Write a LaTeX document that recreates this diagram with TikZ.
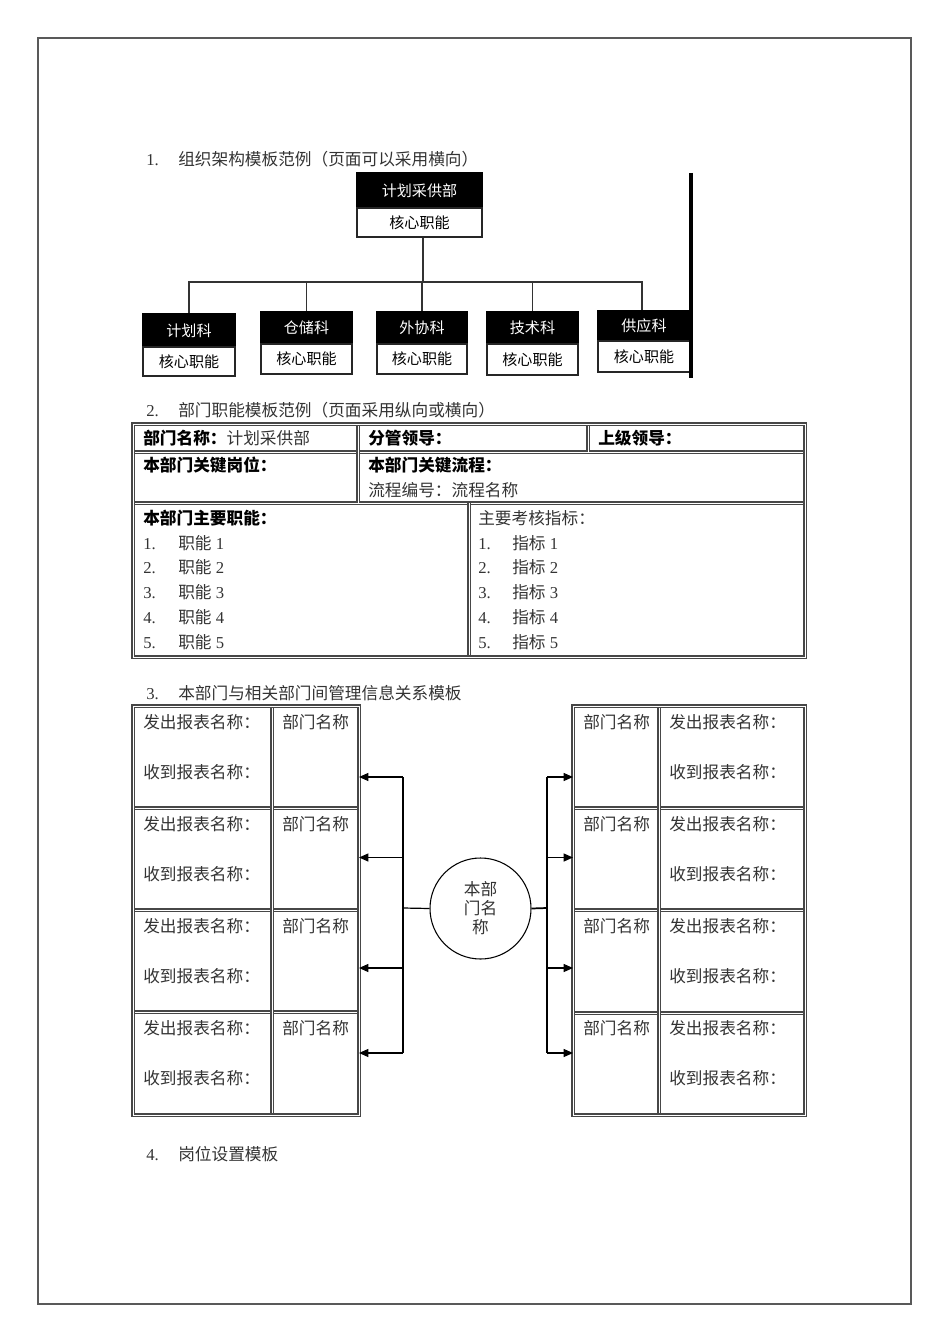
\documentclass[tikz,border=0pt]{standalone}
\usepackage{fontspec}
\setmainfont{Liberation Serif}
\newfontfamily\cjk{Noto Sans CJK SC}
\usetikzlibrary{arrows.meta}
\newcommand\zh[1]{{\cjk #1}}
\newcommand\numlab[2]{\makebox[#1][l]{#2}}
\begin{document}
\begin{tikzpicture}[x=0.75pt,y=-0.75pt,
  txt/.style={anchor=base west, inner sep=0, text=black!80, font=\fontsize{12.5pt}{15pt}\selectfont},
  hd/.style={anchor=base west, inner sep=0, text=black, font=\fontsize{12.5pt}{15pt}\selectfont\cjk\bfseries},
  orgfont/.style={font=\fontsize{11.3pt}{13pt}\selectfont\cjk},
  dk/.style={orgfont, fill=black, draw=black, text=white, inner sep=0, line width=0.8pt},
  lt/.style={orgfont, fill=white, draw=black!85, text=black, inner sep=0, line width=0.9pt},
  link/.style={draw=black!80, line width=0.9pt},
  dbl/.style={draw=black!72, line width=2.3pt, postaction={draw=white, line width=0.75pt}},
  arr/.style={draw=black, line width=0.8pt, -{Triangle[length=7pt,width=6pt]}}
]
\useasboundingbox (0,0) rectangle (950,1344);
% page frame
\draw[draw=black!65, line width=1.4pt] (38,38) rectangle (911,1304);

% ---------- section 1 ----------
\node[txt] (t1) at (146,166) {\numlab{24pt}{1.}\zh{组织架构模板范例（页面可以采用横向）}};

\node[dk, minimum width=125*0.75pt, minimum height=35*0.75pt] (topd) at (419.5,190.5) {计划采供部};
\node[lt, minimum width=125*0.75pt, minimum height=29*0.75pt] (topf) at (419.5,222.5) {核心职能};

\node[dk, minimum width=92*0.75pt, minimum height=33*0.75pt] (ad) at (189,330.5) {计划科};
\node[lt, minimum width=92*0.75pt, minimum height=29*0.75pt] (af) at (189,361.5) {核心职能};
\node[dk, minimum width=91*0.75pt, minimum height=32*0.75pt] (bd) at (306.5,328) {仓储科};
\node[lt, minimum width=91*0.75pt, minimum height=30*0.75pt] (bf) at (306.5,359) {核心职能};
\node[dk, minimum width=90*0.75pt, minimum height=32*0.75pt] (cd) at (422,328) {外协科};
\node[lt, minimum width=90*0.75pt, minimum height=30*0.75pt] (cf) at (422,359) {核心职能};
\node[dk, minimum width=91*0.75pt, minimum height=32*0.75pt] (dd) at (532.5,328) {技术科};
\node[lt, minimum width=91*0.75pt, minimum height=31*0.75pt] (df) at (532.5,359.5) {核心职能};
\node[dk, minimum width=92*0.75pt, minimum height=30*0.75pt] (ed) at (644,326) {供应科};
\node[lt, minimum width=92*0.75pt, minimum height=31*0.75pt] (ef) at (644,356.5) {核心职能};

\coordinate (bus) at (423,282);
\draw[link] (bus |- topf.south) -- (bus);
\draw[link] (bus) -| (ad.north);
\draw[link] (bus) -| (bd.north);
\draw[link] (bus) -| (cd.north);
\draw[link] (bus) -| (dd.north);
\coordinate (ebus) at (642,282);
\draw[link] (bus) -- (ebus) -- (ebus |- ed.north);

\coordinate (thA) at (691,173);
\coordinate (thB) at (691,378);
\draw[draw=black, line width=2.6pt] (thA) -- (thB);

% ---------- section 2 ----------
\node[txt] (t2) at (146,416) {\numlab{24pt}{2.}\zh{部门职能模板范例（页面采用纵向或横向）}};

\draw[dbl] (133,452) -- (805,452);
\draw[dbl] (133,503) -- (805,503);
\draw[dbl] (358,424) -- (358,503);
\draw[dbl] (588,424) -- (588,452);
\draw[dbl] (469,503) -- (469,657);
\draw[dbl] (133,424) rectangle (805,657);

\node[hd] (r1a) at (143,444) {部门名称：\textcolor{black!80}{\mdseries 计划采供部}};
\node[hd] (r1b) at (368,444) {分管领导：};
\node[hd] (r1c) at (598,444) {上级领导：};
\node[hd] (r2a) at (143,471) {本部门关键岗位：};
\node[hd] (r2b) at (368,471) {本部门关键流程：};
\node[txt] (r2c) at (368,496) {\zh{流程编号：流程名称}};
\node[hd] (r3a) at (143,524) {本部门主要职能：};
\node[txt] (r3b) at (478,524) {\zh{主要考核指标：}};
\foreach \k/\yy in {1/549,2/573,3/598,4/623,5/648} {
  \node[txt] (fa\k) at (143,\yy) {\numlab{26.25pt}{\k.}\zh{职能} \k};
  \node[txt] (fb\k) at (478,\yy) {\numlab{25.5pt}{\k.}\zh{指标} \k};
}

% ---------- section 3 ----------
\node[txt] (t3) at (146,699) {\numlab{24pt}{3.}\zh{本部门与相关部门间管理信息关系模板}};

% left table
\draw[dbl] (133,808) -- (359,808);
\draw[dbl] (133,910) -- (359,910);
\draw[dbl] (133,1012) -- (359,1012);
\draw[dbl] (272,706) -- (272,1115);
\draw[dbl] (133,706) rectangle (359,1115);
% right table
\draw[dbl] (573,808) -- (805,808);
\draw[dbl] (573,910) -- (805,910);
\draw[dbl] (573,1013) -- (805,1013);
\draw[dbl] (659,706) -- (659,1115);
\draw[dbl] (573,706) rectangle (805,1115);

\foreach \k/\tp in {1/706,2/808,3/910,4/1012} {
  \node[txt] (lsend\k) at (143,{\tp+22}) {\zh{发出报表名称：}};
  \node[txt] (lrecv\k) at (143,{\tp+72}) {\zh{收到报表名称：}};
  \node[txt] (ldept\k) at (282,{\tp+22}) {\zh{部门名称}};
  \node[txt] (rdept\k) at (583,{\tp+22}) {\zh{部门名称}};
  \node[txt] (rsend\k) at (669,{\tp+22}) {\zh{发出报表名称：}};
  \node[txt] (rrecv\k) at (669,{\tp+72}) {\zh{收到报表名称：}};
}

\node[draw=black, line width=0.8pt, circle, minimum size=101*0.75pt, inner sep=0,
      text=black!80, align=center, font=\fontsize{12.5pt}{14.3pt}\selectfont\cjk] (me) at (480.5,908.5) {本部\\门名\\称};

% left connectors
\coordinate (lj) at (403,908);
\coordinate (lv1) at (403,777);
\coordinate (lv2) at (403,857.5);
\coordinate (lv3) at (403,968);
\coordinate (lv4) at (403,1053);
\coordinate (la1) at (359,777);
\coordinate (la2) at (359,857.5);
\coordinate (la3) at (359,968);
\coordinate (la4) at (359,1053);
\draw[draw=black, line width=0.8pt] (lv1) -- (lv4);
\draw[draw=black, line width=0.9pt] (me.west) -- (lj);
\foreach \k in {1,2,3,4} { \draw[arr] (lv\k) -- (la\k); }

% right connectors
\coordinate (rj) at (547,908);
\coordinate (rv1) at (547,777);
\coordinate (rv2) at (547,857.5);
\coordinate (rv3) at (547,968);
\coordinate (rv4) at (547,1053);
\coordinate (ra1) at (573,777);
\coordinate (ra2) at (573,857.5);
\coordinate (ra3) at (573,968);
\coordinate (ra4) at (573,1053);
\draw[draw=black, line width=0.8pt] (rv1) -- (rv4);
\draw[draw=black, line width=1.3pt] (me.east) -- (rj);
\foreach \k in {1,2,3,4} { \draw[arr] (rv\k) -- (ra\k); }

% ---------- section 4 ----------
\node[txt] (t4) at (146,1160) {\numlab{24pt}{4.}\zh{岗位设置模板}};
\end{tikzpicture}
\end{document}
